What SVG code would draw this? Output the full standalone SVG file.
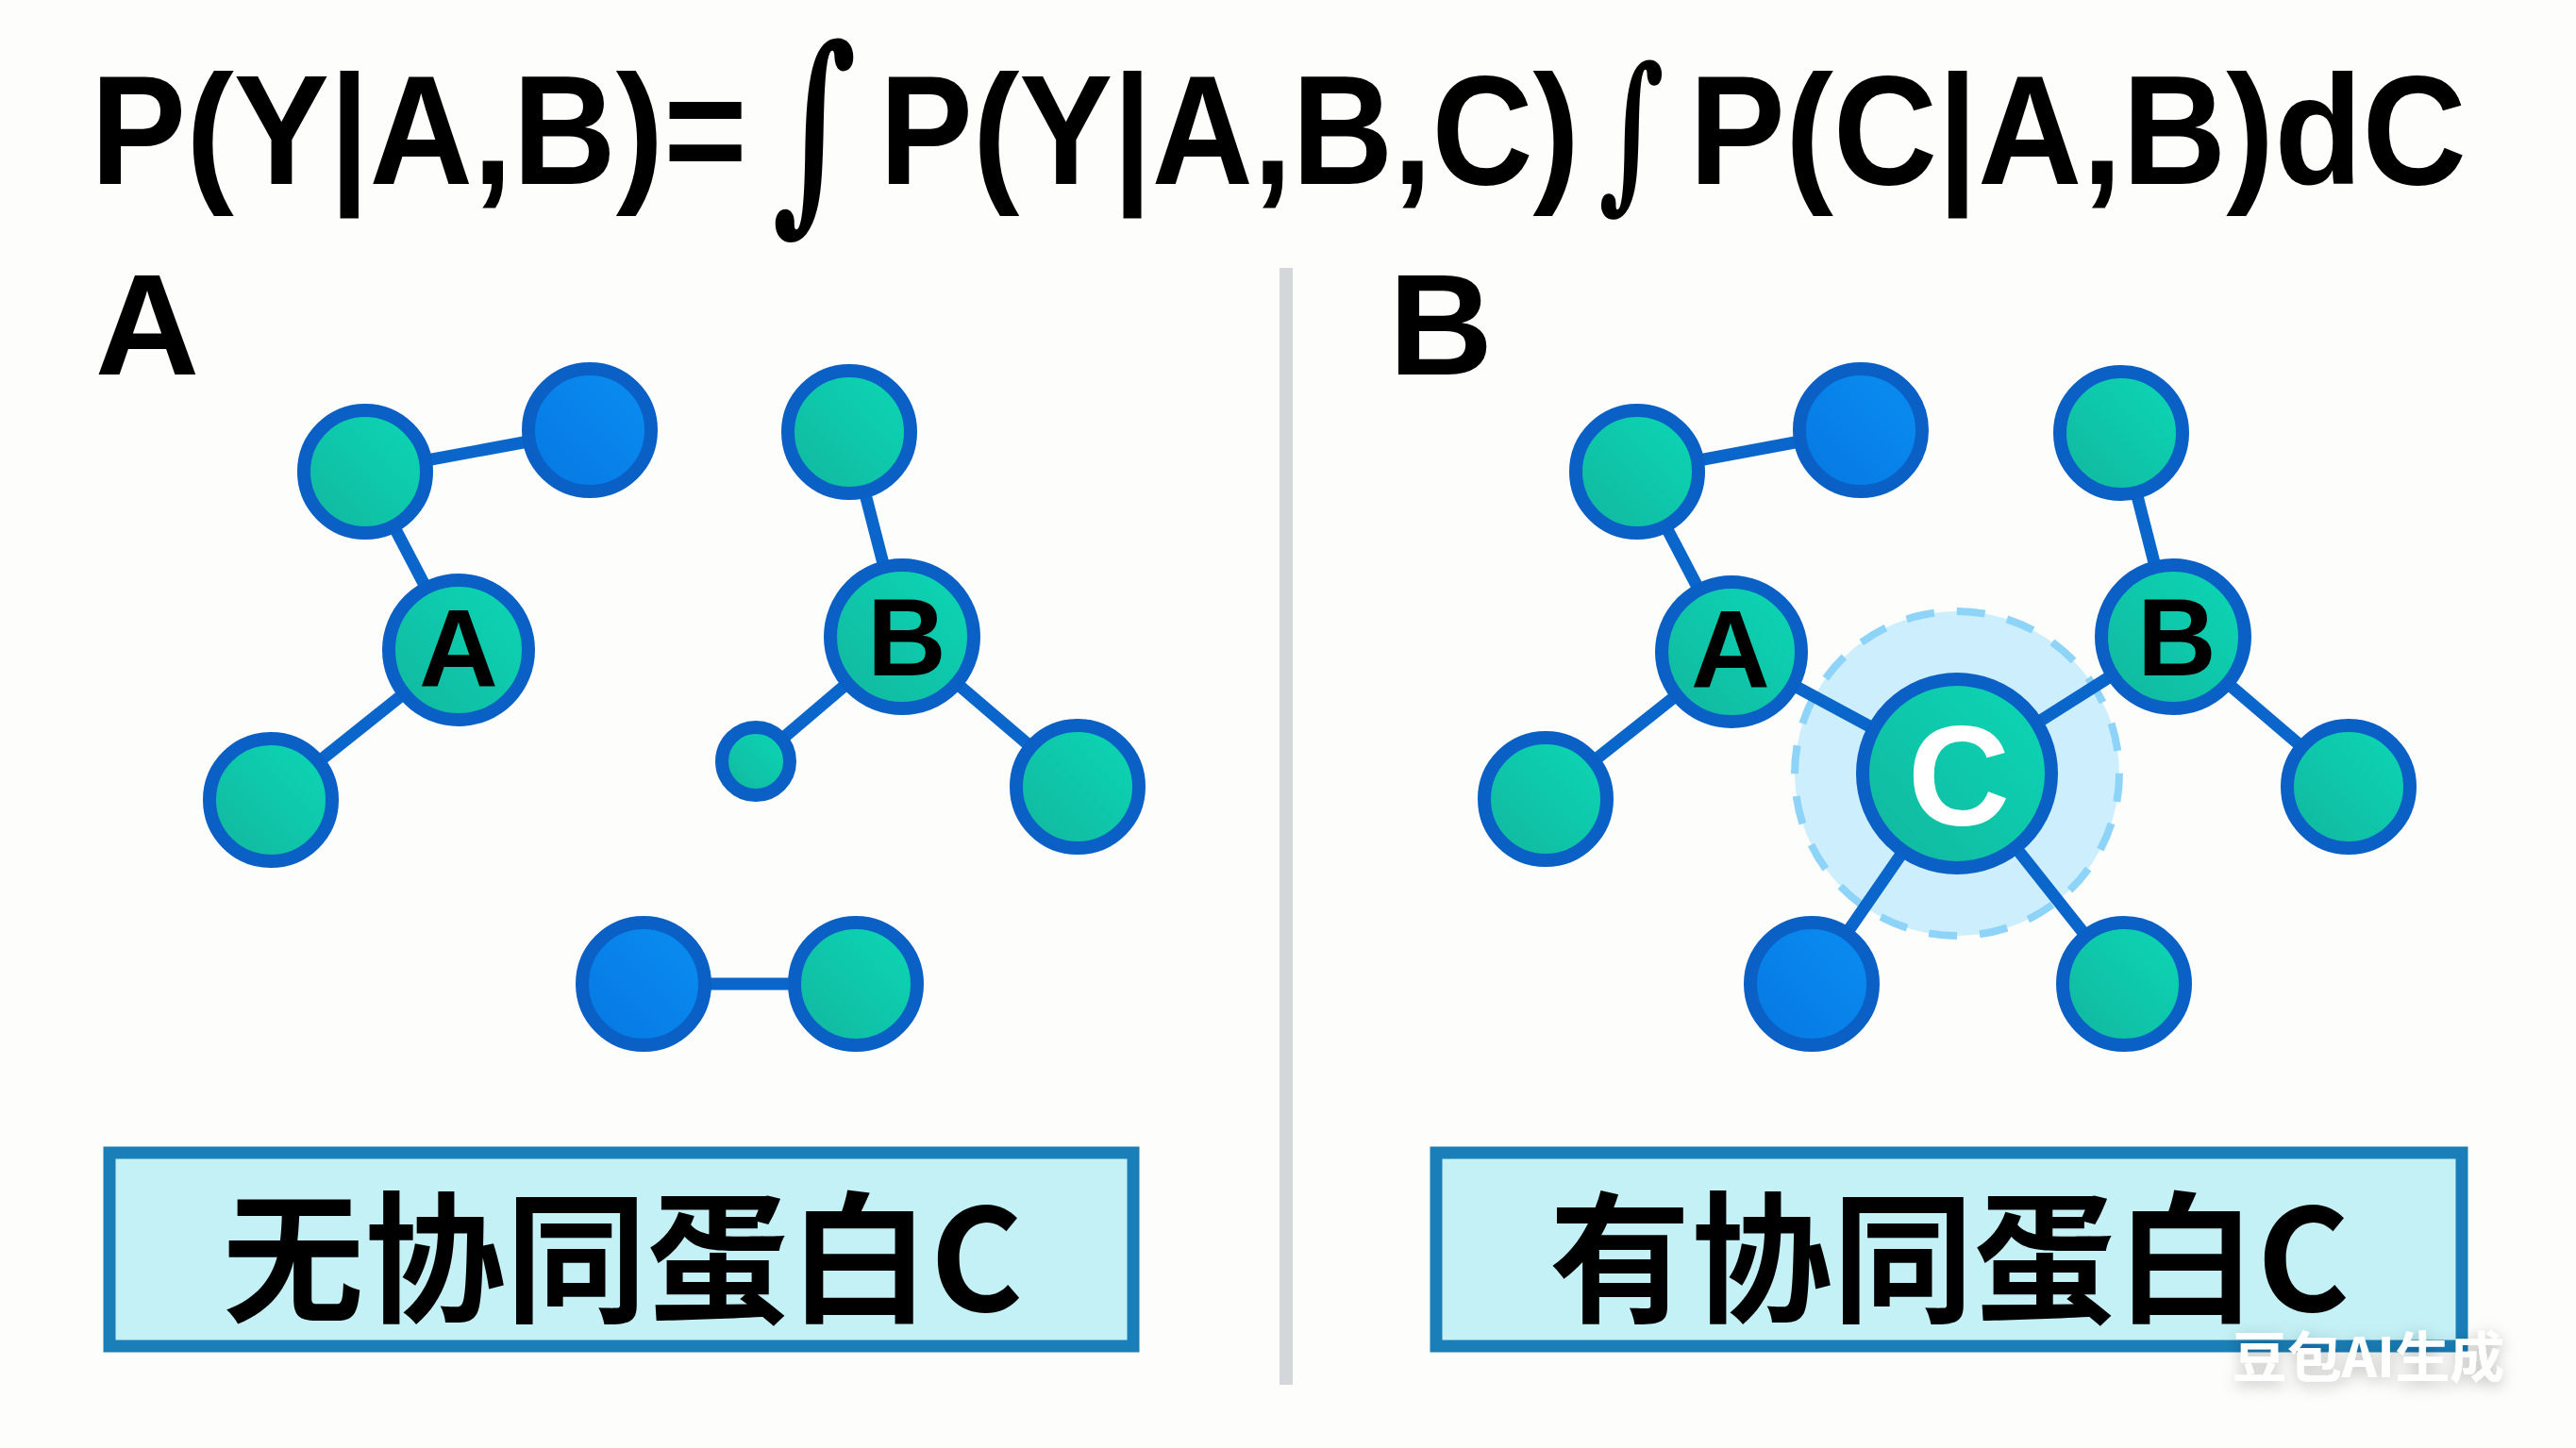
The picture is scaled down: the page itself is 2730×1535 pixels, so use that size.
<svg xmlns="http://www.w3.org/2000/svg" width="2730" height="1535" viewBox="0 0 2730 1535">
<defs>
<linearGradient id="g" x1="1" y1="0" x2="0" y2="1"><stop offset="0" stop-color="#0bd8b6"/><stop offset="1" stop-color="#12b69e"/></linearGradient>
<linearGradient id="b" x1="1" y1="0" x2="0" y2="1"><stop offset="0" stop-color="#0a8ef2"/><stop offset="1" stop-color="#0677e2"/></linearGradient>
<filter id="sh" x="-20%" y="-50%" width="140%" height="200%"><feDropShadow dx="0" dy="4" stdDeviation="8" flood-color="#000" flood-opacity="0.25"/></filter>
</defs>
<style>
.f{font-family:"Liberation Sans",Arial,sans-serif;font-weight:bold;fill:#000}
.i{font-family:"DejaVu Serif",serif;font-weight:bold;fill:#000}
.gn{fill:url(#g);stroke:#0b60c6;stroke-width:14}
.bn{fill:url(#b);stroke:#0b60c6;stroke-width:14}
.e line{stroke:#0b66cc;stroke-width:13;stroke-linecap:round}
.lbl{font-family:"Liberation Sans",Arial,sans-serif;font-weight:bold;text-anchor:middle}
.box{fill:#c4f1f6;stroke:#1a7fb8;stroke-width:13}
.cjk{font-family:"Noto Sans CJK SC","Liberation Sans",sans-serif;font-weight:bold;font-size:150px;text-anchor:middle;fill:#000}
</style>
<rect width="2730" height="1535" fill="#fdfdfb"/>
<g id="formula">
<text class="f" x="96" y="195" font-size="166" textLength="696" lengthAdjust="spacingAndGlyphs">P(Y|A,B)=</text>
<text class="i" x="818" y="215" font-size="230" textLength="90" lengthAdjust="spacingAndGlyphs">∫</text>
<text class="f" x="932" y="195" font-size="166" textLength="742" lengthAdjust="spacingAndGlyphs">P(Y|A,B,C)</text>
<text class="i" x="1694" y="200" font-size="180" textLength="70" lengthAdjust="spacingAndGlyphs">∫</text>
<text class="f" x="1790" y="195" font-size="166" textLength="824" lengthAdjust="spacingAndGlyphs">P(C|A,B)dC</text>
</g>
<text class="lbl" x="156" y="397" font-size="153">A</text>
<text class="lbl" x="1527" y="397" font-size="153">B</text>
<rect id="divider" x="1356" y="284" width="14" height="1184" fill="#d3d7da"/>
<g id="halo"><circle cx="2074" cy="820" r="172" fill="#cdeefc" stroke="#8ed4f8" stroke-width="8" stroke-dasharray="30 24"/></g>
<g id="connectors" class="e">
<line x1="387" y1="500" x2="625" y2="456"/>
<line x1="387" y1="500" x2="486" y2="689"/>
<line x1="486" y1="689" x2="287" y2="848"/>
<line x1="956" y1="675" x2="900" y2="458"/>
<line x1="956" y1="675" x2="801" y2="807"/>
<line x1="956" y1="675" x2="1142" y2="834"/>
<line x1="682" y1="1043" x2="907" y2="1043"/>
<line x1="1735" y1="500" x2="1972" y2="456"/>
<line x1="1735" y1="500" x2="1835" y2="691"/>
<line x1="1835" y1="691" x2="1638" y2="847"/>
<line x1="1835" y1="691" x2="2074" y2="820"/>
<line x1="2074" y1="820" x2="2303" y2="675"/>
<line x1="2303" y1="675" x2="2248" y2="459"/>
<line x1="2303" y1="675" x2="2489" y2="834"/>
<line x1="2074" y1="820" x2="1920" y2="1043"/>
<line x1="2074" y1="820" x2="2251" y2="1043"/>
</g>
<g id="left-n1"><circle class="gn" cx="387" cy="500" r="65"/></g>
<g id="left-n2"><circle class="bn" cx="625" cy="456" r="65"/></g>
<g id="left-A"><circle class="gn" cx="486" cy="689" r="74"/><text class="lbl" x="486" y="728" font-size="116">A</text></g>
<g id="left-n4"><circle class="gn" cx="287" cy="848" r="65"/></g>
<g id="left-B"><circle class="gn" cx="956" cy="675" r="76"/><text class="lbl" x="961" y="716" font-size="116">B</text></g>
<g id="left-n6"><circle class="gn" cx="900" cy="458" r="65"/></g>
<g id="left-n7"><circle class="gn" cx="801" cy="807" r="36"/></g>
<g id="left-n8"><circle class="gn" cx="1142" cy="834" r="65"/></g>
<g id="left-n9"><circle class="bn" cx="682" cy="1043" r="65"/></g>
<g id="left-n10"><circle class="gn" cx="907" cy="1043" r="65"/></g>
<g id="right-n1"><circle class="gn" cx="1735" cy="500" r="65"/></g>
<g id="right-n2"><circle class="bn" cx="1972" cy="456" r="65"/></g>
<g id="right-A"><circle class="gn" cx="1835" cy="691" r="74"/><text class="lbl" x="1834" y="729" font-size="116">A</text></g>
<g id="right-n4"><circle class="gn" cx="1638" cy="847" r="65"/></g>
<g id="right-n6"><circle class="gn" cx="2248" cy="459" r="65"/></g>
<g id="right-B"><circle class="gn" cx="2303" cy="675" r="76"/><text class="lbl" x="2307" y="716" font-size="116">B</text></g>
<g id="right-n8"><circle class="gn" cx="2489" cy="834" r="65"/></g>
<g id="right-n9"><circle class="bn" cx="1920" cy="1043" r="65"/></g>
<g id="right-n10"><circle class="gn" cx="2251" cy="1043" r="65"/></g>
<g id="right-C"><circle class="gn" cx="2074" cy="820" r="100"/><text class="lbl" x="2076" y="875" font-size="150" fill="#fff">C</text></g>
<g id="label-left"><rect class="box" x="116" y="1222" width="1085" height="205"/><text class="cjk" x="660" y="1390">无协同蛋白C</text></g>
<g id="label-right"><rect class="box" x="1522" y="1222" width="1087" height="205"/><text class="cjk" x="2066" y="1390">有协同蛋白C</text></g>
<text x="2510" y="1460" font-family="'Noto Sans CJK SC',sans-serif" font-weight="bold" font-size="58" fill="#fff" text-anchor="middle" filter="url(#sh)">豆包AI生成</text>
</svg>
